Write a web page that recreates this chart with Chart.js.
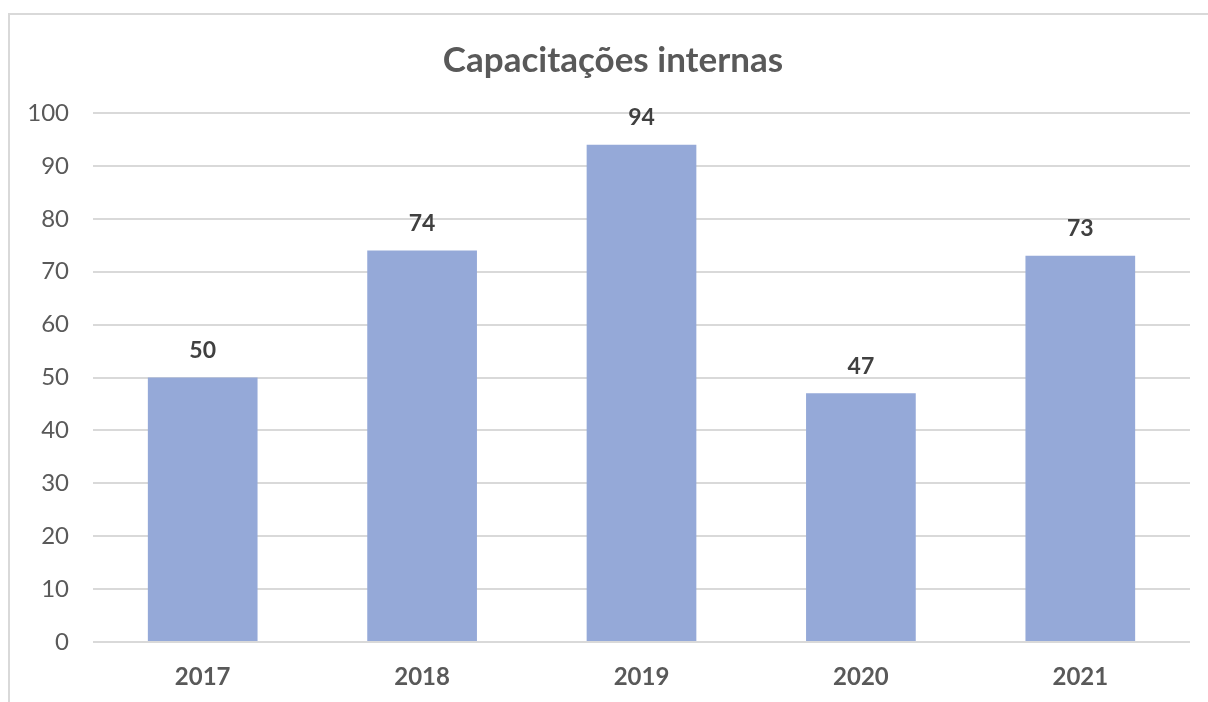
<!DOCTYPE html>
<html>
<head>
<meta charset="utf-8">
<script src="https://cdn.jsdelivr.net/npm/chart.js@4.4.0/dist/chart.umd.min.js"></script>
<style>
  html, body { margin: 0; padding: 0; background: #fff; overflow: hidden; width: 1208px; height: 702px; }
  #frame { position: absolute; left: 8px; top: 13px; width: 1260px; height: 760px; border: 2px solid #d9d9d9; box-sizing: border-box; }
  #wrap { position: absolute; left: 9px; top: 14px; width: 1208px; height: 688px; }
</style>
</head>
<body>
<div id="frame"></div>
<div id="wrap"><canvas id="chart" width="1208" height="688"></canvas></div>
<script>
// data
const years = ["2017", "2018", "2019", "2020", "2021"];
const trainings = [50, 74, 94, 47, 73];
const yTicks = [0, 10, 20, 30, 40, 50, 60, 70, 80, 90, 100];

const FONT = "Lato, 'Open Sans', sans-serif";

// value labels above each bar, placed from the bar elements
const barLabels = {
  id: "barLabels",
  afterLayout(chart) {
    // centre the title on the whole frame, not the padded box
    chart.titleBlock.right = chart.width;
  },
  afterDatasetsDraw(chart) {
    const ctx = chart.ctx;
    const meta = chart.getDatasetMeta(0);
    ctx.save();
    ctx.font = "bold 23px " + FONT;
    ctx.fillStyle = "#404040";
    ctx.textAlign = "center";
    ctx.textBaseline = "middle";
    meta.data.forEach((bar, i) => {
      ctx.fillText(String(trainings[i]), bar.x, bar.y - 27);
    });
    ctx.restore();
  }
};

const ctx = document.getElementById("chart").getContext("2d");
new Chart(ctx, {
  type: "bar",
  data: {
    labels: years,
    datasets: [{
      label: "Capacitações internas",
      data: trainings,
      backgroundColor: "#95a9d8",
      borderWidth: 0,
      categoryPercentage: 1,
      barPercentage: 0.5
    }]
  },
  options: {
    responsive: false,
    animation: false,
    layout: { padding: { left: 0, right: 27, top: 0, bottom: 0 } },
    plugins: {
      legend: { display: false },
      tooltip: { enabled: false },
      title: {
        display: true,
        text: "Capacitações internas",
        color: "#595959",
        font: { family: FONT, size: 35, weight: "bold" },
        padding: { top: 26, bottom: 31 }
      }
    },
    scales: {
      y: {
        min: 0,
        max: 100,
        afterBuildTicks(scale) { scale.ticks = yTicks.map(v => ({ value: v })); },
        afterFit(scale) { scale.width = 84; },
        ticks: { color: "#595959", font: { family: FONT, size: 24 }, padding: 24 },
        grid: { color: "#d9d9d9", lineWidth: 2, drawTicks: false },
        border: { display: false }
      },
      x: {
        afterFit(scale) { scale.height = 60; },
        ticks: { color: "#595959", font: { family: FONT, size: 24, weight: "bold" }, padding: 13 },
        grid: { display: false },
        border: { display: false }
      }
    }
  },
  plugins: [barLabels]
});
</script>
</body>
</html>
